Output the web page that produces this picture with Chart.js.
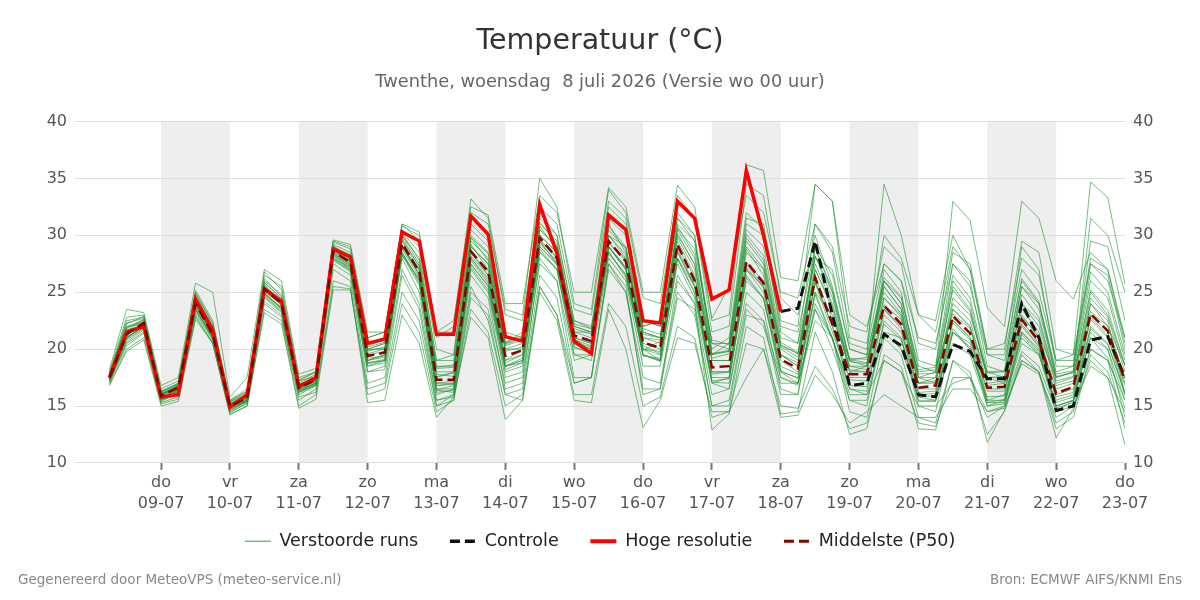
<!DOCTYPE html>
<html lang="nl">
<head>
<meta charset="utf-8">
<title>Temperatuur pluim Twenthe</title>
<script src="https://cdn.jsdelivr.net/npm/chart.js@4.4.1/dist/chart.umd.min.js"></script>
<style>
  html, body { margin: 0; padding: 0; background: #fff; }
  #wrap { width: 1200px; height: 600px; }
</style>
</head>
<body>
<div id="wrap"><canvas id="pluimChart" width="1200" height="600"></canvas></div>
<script>
// Uren na wo 08-07 00:00 (stappen van 6 uur)
const uren = [6,12,18,24,30,36,42,48,54,60,66,72,78,84,90,96,102,108,114,120,
  126,132,138,144,150,156,162,168,174,180,186,192,198,204,210,216,222,228,234,240,
  246,252,258,264,270,276,282,288,294,300,306,312,318,324,330,336,342,348,354,360];

// As-labels (middernacht van elke dag)
const tickUren = [24,48,72,96,120,144,168,192,216,240,264,288,312,336,360];
const dagNamen = ['do','vr','za','zo','ma','di','wo','do','vr','za','zo','ma','di','wo','do'];
const datums = ['09-07','10-07','11-07','12-07','13-07','14-07','15-07','16-07','17-07','18-07','19-07','20-07','21-07','22-07','23-07'];

// Grijze banden: begin van de gearceerde dagen
const bandUren = [24,72,120,168,216,264,312];

// Hoge resolutie (loopt tot +240 uur)
const hogeResolutie = [17.5,21.5,22.0, 15.8,16.0,24.4,21.7, 14.9,16.0,25.3,24.2, 16.7,17.5,28.8,28.1,
  20.5,20.9,30.3,29.5, 21.3,21.3,31.7,30.1, 21.1,20.7,32.7,28.4, 20.7,19.6,31.8,30.5,
  22.5,22.3,33.0,31.5, 24.4,25.2,35.7,30.0, 23.3];

// Controle run (zichtbaar vanaf +240 uur)
const controleStart = 240;
const controle = [23.3,23.6,29.5,23.0, 16.8,17.0,21.3,20.3, 16.0,15.8,20.4,19.8,
  17.4,17.4,24.0,21.0, 14.6,15.0,20.8,21.1, 17.5];

// Middelste (P50)
const mediaan = [17.5,21.3,22.3, 15.9,16.6,24.0,21.3, 15.0,15.7,25.3,24.0, 16.6,17.3,28.6,27.6,
  19.4,19.7,29.3,26.8, 17.3,17.3,28.6,26.8, 19.4,19.9,29.8,28.0, 21.2,20.7,29.5,27.7,
  20.6,20.1,29.2,26.0, 18.4,18.5,27.7,25.8, 19.1,18.3,26.3,22.2, 17.8,17.8,23.8,22.2,
  16.6,16.8,22.9,21.4, 16.6,16.7,22.6,20.7, 16.1,16.7,23.1,21.6, 17.2];

// Verstoorde runs (geschat uit de pluim)
const runs = [
  [17.8,22.5,22.8, 16.2,16.8,24.8,22.0, 15.3,16.2,26.0,24.8, 17.0,17.8,29.2,28.5, 20.5,21.0,30.5,29.0, 20.0,19.5,31.0,29.5, 21.5,21.0,32.0,30.0, 22.5,21.8,31.0,28.5, 20.0,19.0,27.5,24.5, 17.0,16.5,24.0,22.5, 17.5,16.8,23.5,21.0, 16.5,16.0,21.5,20.0, 15.8,15.5,20.5,19.5, 15.0,15.2,19.8,18.5, 14.5,15.0,20.0,19.0, 15.5],
  [17.2,20.5,21.5, 15.5,16.0,23.2,20.8, 14.6,15.4,24.5,23.2, 16.0,16.8,27.5,26.5, 18.0,18.2,27.0,24.0, 15.5,15.8,25.0,23.5, 17.0,17.5,27.5,26.0, 19.0,19.5,30.0,29.0, 22.0,22.5,33.0,31.5, 21.5,22.0,34.5,33.5, 24.5,23.0,30.0,25.5, 19.0,18.5,26.0,24.0, 17.5,17.0,24.5,23.0, 18.0,17.5,25.5,24.0, 17.5,18.0,26.0,24.5, 19.0],
  [17.6,21.8,22.6, 16.0,16.9,24.5,21.8, 15.2,15.9,25.6,24.3, 16.8,17.6,28.9,28.0, 19.8,20.2,30.0,27.5, 18.0,18.0,29.5,28.0, 20.0,20.5,31.0,29.5, 21.5,21.0,30.5,28.8, 21.0,20.5,30.5,28.0, 19.5,19.8,29.5,27.5, 20.0,19.0,27.5,24.0, 18.5,18.2,25.5,23.5, 17.0,17.2,24.0,22.5, 17.0,17.2,24.0,22.0, 16.8,17.2,24.5,22.8, 18.0],
  [16.9,20.0,21.0, 15.2,15.6,22.8,20.6, 14.3,15.0,23.5,22.5, 15.0,16.0,25.5,25.3, 16.0,16.5,24.0,21.5, 14.5,15.5,23.5,21.5, 15.0,16.0,25.5,23.0, 16.0,16.0,24.0,22.0, 15.0,15.8,22.0,21.0, 14.0,14.5,20.5,20.0, 15.0,14.8,18.5,16.5, 13.0,13.5,19.0,18.0, 13.5,13.2,17.5,17.5, 12.5,14.5,19.0,18.0, 13.0,14.0,19.5,18.0, 13.5],
  [17.4,21.0,22.0, 15.8,16.4,23.8,21.5, 15.0,15.8,25.0,24.0, 16.5,17.2,28.5,27.8, 19.0,19.5,29.0,27.0, 17.5,18.0,29.0,27.5, 19.0,20.0,30.5,29.0, 22.0,21.5,31.5,30.0, 21.5,21.0,31.0,29.5, 20.0,21.0,32.0,30.5, 21.5,20.5,28.0,27.0, 20.0,19.5,34.5,30.0, 23.0,22.5,30.0,27.0, 20.0,20.5,28.0,26.5, 19.0,19.5,34.7,33.3, 25.7],
  [17.7,22.0,22.4, 16.1,16.5,24.2,21.2, 15.1,15.6,25.5,23.8, 16.7,17.5,28.8,27.8, 19.5,19.8,29.5,27.0, 17.0,17.0,28.0,26.0, 18.5,19.0,29.0,27.5, 20.5,20.0,29.0,27.0, 20.0,19.5,28.5,25.5, 18.0,18.0,27.0,25.5, 19.5,18.5,27.0,23.5, 18.0,18.5,24.5,23.0, 17.5,18.0,33.0,31.3, 23.6,22.0,33.0,31.5, 26.0,24.4,28.5,27.0, 20.5],
  [17.3,21.2,22.2, 15.6,16.3,23.6,21.0, 14.8,15.5,24.8,23.6, 16.3,17.0,28.0,27.2, 18.5,19.0,28.5,26.0, 16.5,16.5,27.5,25.5, 18.0,18.5,28.5,27.0, 19.5,19.0,28.0,26.0, 18.5,18.5,26.5,24.0, 16.0,16.5,25.0,23.5, 16.5,16.0,25.0,21.0, 14.5,14.0,21.0,19.5, 14.0,13.5,19.0,18.0, 11.8,14.6,19.5,18.0, 12.2,14.8,19.0,17.5, 11.6],
  [18.0,22.8,23.0, 16.5,17.2,25.2,22.5, 15.5,16.5,26.5,25.5, 17.5,18.0,29.5,29.0, 21.0,21.5,31.0,29.5, 21.5,21.5,32.0,31.0, 23.5,23.0,35.0,32.5, 24.0,23.5,34.0,32.0, 24.5,24.0,33.5,31.5, 22.5,23.0,36.2,35.7, 26.3,26.0,34.5,33.0, 23.0,22.0,27.5,26.0, 21.0,20.5,27.5,25.5, 19.5,19.0,26.0,24.0, 18.0,18.5,27.5,26.0, 21.0],
  [17.0,20.8,21.8, 15.4,16.2,23.5,21.0, 14.5,15.2,24.0,22.8, 15.8,16.2,26.0,25.5, 15.3,15.5,23.0,20.5, 14.0,15.8,22.8,21.0, 13.8,15.5,25.5,23.0, 17.0,17.5,27.0,25.0, 17.5,17.0,25.0,23.0, 15.0,15.5,23.5,22.0, 17.0,17.0,22.5,21.0, 16.0,16.0,19.0,18.0, 15.0,15.0,17.0,17.5, 14.5,15.0,18.7,17.8, 14.0,15.0,18.5,17.5, 14.5],
  [17.5,21.0,22.1, 15.9,16.6,24.0,21.5, 15.0,15.7,25.2,23.9, 16.6,17.2,28.4,27.4, 19.0,19.5,29.0,26.5, 17.0,17.2,28.5,26.5, 19.0,19.5,29.5,28.0, 21.0,20.5,29.0,27.0, 20.5,20.0,29.5,26.5, 18.0,18.0,27.5,25.5, 19.0,18.0,26.0,22.0, 17.5,17.5,23.5,22.0, 16.5,16.5,22.5,21.0, 16.5,16.5,22.5,20.5, 16.0,16.5,23.0,21.5, 17.0],
  [17.9,22.2,22.9, 16.3,16.9,24.9,22.2, 15.4,16.0,26.2,24.6, 17.2,17.6,29.0,28.2, 20.0,20.5,30.0,28.0, 19.0,19.5,30.5,29.0, 20.5,21.0,30.0,28.5, 21.5,21.5,32.5,31.0, 22.5,22.0,32.0,30.0, 20.5,20.0,30.5,29.0, 21.0,20.5,31.0,28.5, 20.5,20.0,27.5,26.0, 19.0,18.5,27.5,26.0, 18.5,18.0,29.0,27.0, 18.5,18.5,29.5,29.0, 22.5],
  [17.1,20.3,21.4, 15.3,15.8,23.0,20.5, 14.4,15.3,24.2,23.0, 15.5,16.5,27.0,26.0, 17.0,17.5,26.5,23.5, 15.0,15.5,24.5,23.0, 16.0,16.5,26.5,24.5, 17.0,17.5,27.5,25.0, 16.5,16.5,24.5,23.5, 15.0,15.0,23.0,22.5, 16.0,16.0,24.0,21.0, 15.5,15.0,22.5,21.0, 15.0,14.5,21.5,20.0, 15.5,15.5,21.0,19.5, 15.0,15.5,21.5,20.0, 15.5],
  [17.6,21.6,22.5, 16.0,16.7,24.3,21.6, 15.1,15.8,25.4,24.2, 16.9,17.4,28.7,27.9, 20.0,20.0,29.8,27.2, 18.5,18.5,29.0,27.5, 20.0,20.0,30.0,28.5, 21.0,20.5,30.0,28.0, 21.5,21.0,30.0,27.5, 19.0,19.0,28.5,27.0, 19.5,18.5,29.0,25.0, 18.0,18.0,27.0,25.0, 17.5,17.5,25.5,23.5, 17.5,17.5,25.5,23.5, 17.5,18.0,31.5,30.0, 25.0],
  [17.2,20.6,21.7, 15.6,16.0,23.4,21.0, 14.7,15.4,24.6,23.3, 16.2,16.8,27.8,26.8, 18.0,18.5,28.0,25.0, 15.5,16.0,26.5,24.5, 16.5,17.0,28.0,26.0, 17.5,17.5,27.5,25.5, 16.0,16.5,26.0,24.0, 12.9,14.3,22.0,21.0, 14.3,14.5,21.5,18.0, 12.5,13.0,19.5,18.5, 13.0,12.9,19.0,17.5, 14.0,15.0,21.5,20.0, 15.0,15.5,22.0,20.5, 16.0],
  [17.8,22.3,22.7, 16.2,17.0,25.0,22.3, 15.5,16.3,26.8,25.2, 17.3,18.0,29.4,28.8, 21.0,21.5,30.8,30.0, 21.0,22.0,33.2,31.5, 23.0,22.5,32.5,31.0, 23.5,23.0,33.0,31.5, 22.5,22.0,31.5,29.5, 20.5,20.5,31.0,30.0, 22.0,21.5,29.0,26.5, 20.0,19.5,26.0,24.5, 18.5,18.0,26.0,24.0, 17.5,17.0,24.0,22.5, 17.0,17.5,25.0,23.0, 18.5],
  [17.4,21.4,22.2, 15.8,16.5,24.1,21.4, 14.9,15.6,25.3,24.0, 16.5,17.3,28.3,27.3, 19.0,19.3,28.5,26.0, 16.8,17.0,27.8,25.8, 18.5,19.2,30.5,29.0, 22.0,21.5,28.5,26.5, 19.5,19.0,28.0,25.0, 17.5,17.5,26.5,24.5, 18.0,17.5,25.0,23.0, 18.5,18.5,25.5,23.5, 17.0,17.5,23.5,22.0, 15.5,16.0,23.5,21.5, 15.5,16.0,24.0,22.5, 16.0],
  [17.7,21.9,22.3, 16.0,16.6,24.6,21.9, 15.2,16.0,25.8,24.5, 16.8,17.5,29.0,28.3, 20.0,20.5,30.3,28.5, 19.0,19.0,30.0,28.5, 20.5,21.5,31.5,30.0, 22.5,22.0,31.5,30.5, 22.0,22.5,31.5,30.0, 19.5,20.5,31.5,31.0, 22.5,22.0,34.5,33.0, 21.0,20.5,30.0,28.0, 23.0,21.5,29.0,27.0, 19.5,19.5,27.0,25.0, 19.0,19.0,28.0,27.0, 21.0],
  [17.3,21.1,21.9, 15.7,16.3,23.9,21.2, 14.9,15.6,24.9,23.6, 16.4,17.0,28.2,27.0, 18.5,18.8,28.2,26.2, 16.0,16.5,27.0,25.0, 17.5,18.0,28.8,27.0, 19.5,19.5,29.0,27.0, 19.5,19.0,28.0,25.5, 17.0,17.5,26.0,24.5, 17.5,17.0,23.5,20.0, 15.5,15.5,21.5,21.0, 15.5,15.5,21.5,20.5, 15.0,15.5,20.5,19.5, 14.5,15.5,21.0,20.0, 14.0],
  [16.8,19.8,20.8, 15.0,15.4,22.6,20.5, 14.2,15.0,23.2,22.2, 14.8,15.6,25.2,25.2, 16.5,17.0,25.0,22.5, 15.0,16.0,25.5,22.5, 16.0,15.5,25.0,22.5, 15.5,15.3,23.5,20.0, 13.1,15.5,21.0,20.5, 14.5,14.5,17.5,20.0, 14.0,14.2,17.7,16.0, 13.5,14.5,16.0,15.0, 14.0,14.0,16.5,16.5, 14.5,14.8,19.0,18.0, 13.5,14.5,20.0,19.0, 13.0],
  [18.2,23.5,23.2, 16.8,17.5,25.8,25.0, 15.8,17.5,27.0,26.0, 17.8,18.3,29.6,29.2, 21.5,21.5,31.0,30.3, 21.5,22.5,32.5,31.8, 24.0,24.0,33.5,32.0, 25.0,25.0,34.2,32.5, 25.0,25.0,34.4,32.5, 22.7,25.5,33.5,32.0, 25.0,24.5,31.0,29.0, 22.0,21.5,29.0,27.5, 20.5,20.0,28.5,27.5, 20.0,20.0,29.5,28.5, 20.0,19.5,27.5,26.5, 20.0],
  [17.6,21.7,22.0, 15.9,16.8,24.4,21.0, 15.1,15.9,25.7,23.8, 16.7,17.4,28.8,27.5, 19.6,20.0,29.6,27.3, 17.8,17.6,29.2,27.0, 19.8,20.2,29.5,27.5, 20.8,20.3,30.0,28.3, 20.3,19.6,29.8,27.0, 19.0,19.0,28.8,26.5, 19.5,18.8,27.0,23.8, 18.2,18.0,24.5,22.8, 17.0,17.0,23.5,22.0, 16.8,17.0,23.0,21.0, 16.5,17.0,24.0,22.0, 17.5],
  [17.4,21.2,22.4, 15.7,16.4,23.7,21.6, 14.9,15.5,24.9,23.7, 16.4,17.1,28.3,27.2, 19.2,19.4,28.8,26.3, 16.8,16.9,28.0,26.2, 18.8,19.5,29.2,27.8, 20.5,20.2,29.0,27.2, 20.0,19.8,28.6,25.5, 17.8,18.0,27.0,25.0, 18.5,17.8,25.8,21.5, 17.3,17.2,23.0,21.5, 16.2,16.3,22.3,20.8, 16.3,16.3,22.0,20.2, 15.8,16.2,22.6,21.0, 16.8],
  [17.7,21.6,22.1, 16.1,16.7,24.6,21.7, 15.2,16.0,25.9,24.4, 16.9,17.5,29.1,28.0, 20.2,20.6,30.2,27.8, 18.3,18.4,29.8,27.8, 20.3,20.8,31.2,29.2, 21.8,21.3,30.8,29.0, 21.3,21.0,30.8,28.3, 19.6,19.8,29.8,27.8, 20.2,19.3,28.2,24.5, 18.9,18.7,26.0,24.0, 17.8,17.9,25.2,23.3, 17.5,17.6,24.8,22.8, 17.2,17.6,25.2,23.4, 18.6],
  [17.3,20.9,21.9, 15.6,16.2,23.5,20.9, 14.8,15.4,24.7,23.4, 16.2,16.9,27.9,26.9, 18.7,19.0,28.3,25.6, 16.2,16.4,27.2,25.2, 18.2,18.8,28.6,27.0, 20.1,19.8,28.4,26.6, 19.4,19.2,27.9,24.9, 17.2,17.4,26.3,24.4, 18.1,17.4,24.8,20.8, 16.8,16.7,22.2,20.8, 15.8,15.9,21.5,20.2, 15.8,15.9,21.3,19.6, 15.3,15.8,21.8,20.4, 16.2],
  [17.5,21.9,22.6, 16.0,16.8,24.2,21.1, 15.1,15.7,25.5,24.1, 16.6,17.3,28.5,27.7, 19.9,20.1,29.0,26.6, 17.6,17.9,29.8,28.4, 20.6,21.2,30.8,28.7, 20.9,19.9,28.6,26.3, 19.9,20.7,30.6,28.8, 20.8,20.4,30.1,28.2, 20.6,19.7,28.8,25.3, 19.1,18.8,25.0,23.1, 16.0,16.1,21.8,20.0, 15.3,15.6,21.5,19.8, 14.8,15.3,21.0,19.2, 14.8],
  [17.2,21.0,22.0, 15.6,16.4,23.8,21.1, 14.9,15.5,24.9,23.5, 16.4,17.0,28.0,27.0, 18.8,19.1,28.4,25.8, 16.4,16.8,27.4,25.6, 18.5,19.0,29.0,27.4, 20.4,20.0,29.3,27.8, 21.0,20.8,30.2,27.4, 19.2,19.6,29.0,27.1, 20.4,19.6,28.2,25.0, 19.0,19.3,26.3,24.6, 18.2,18.4,26.5,24.5, 18.0,18.1,26.2,24.2, 17.8,18.1,26.8,25.0, 19.5],
  [17.5,21.5,22.3, 15.6,16.2,24.3,21.5, 14.6,15.4,25.4,24.0, 16.2,16.9,28.7,27.7, 18.8,19.0,29.1,26.6, 16.4,16.2,28.2,26.5, 18.5,18.8,29.4,27.6, 20.2,19.6,29.0,27.2, 19.5,18.9,28.8,25.6, 17.1,17.0,27.2,25.4, 18.0,17.0,26.0,22.0, 16.5,16.3,23.5,21.8, 15.4,15.4,22.6,21.0, 15.3,15.3,22.2,20.3, 15.0,15.5,22.8,21.2, 16.0],
  [17.6,21.4,22.2, 16.3,17.0,24.0,21.4, 15.4,16.3,25.1,23.9, 17.2,18.0,28.4,27.5, 20.3,20.8,29.0,26.9, 18.4,18.6,28.4,26.9, 20.4,21.0,29.6,28.1, 22.2,21.8,29.4,27.9, 21.8,21.3,29.0,26.3, 19.6,19.9,27.6,26.0, 20.3,19.6,26.4,22.6, 19.2,19.1,23.9,22.6, 18.0,18.2,23.1,21.8, 17.9,18.0,22.8,21.2, 17.6,17.9,23.3,22.0, 18.6]
];

const FONT = '"DejaVu Sans", "Noto Sans", sans-serif';

function punten(waarden, startIndex) {
  return waarden.map((v, i) => ({ x: uren[startIndex + i], y: v }));
}

const datasets = [];

datasets.push({
  label: 'Middelste (P50)',
  data: punten(mediaan, 0),
  borderColor: '#8b0000',
  borderWidth: 2.5,
  borderDash: [10, 5],
  order: 1
});
datasets.push({
  label: 'Hoge resolutie',
  data: punten(hogeResolutie, 0),
  borderColor: '#ff0000',
  borderWidth: 3.5,
  order: 2
});
datasets.push({
  label: 'Controle',
  data: punten(controle, uren.indexOf(controleStart)),
  borderColor: '#111111',
  borderWidth: 3,
  borderDash: [10, 5],
  order: 3
});
runs.forEach((run, i) => {
  datasets.push({
    label: i === 0 ? 'Verstoorde runs' : 'run ' + (i + 1),
    data: punten(run, 0),
    borderColor: 'rgba(30, 145, 50, 0.6)',
    borderWidth: 1,
    order: 10 + i
  });
});

// Legenda volgorde (extra spaties geven wat lucht tussen de items)
const legendaVolgorde = ['Verstoorde runs', 'Controle', 'Hoge resolutie', 'Middelste (P50)'];

// Grijze banden achter de lijnen
const dagBanden = {
  id: 'dagBanden',
  beforeDraw(chart) {
    const { ctx, chartArea, scales } = chart;
    ctx.save();
    ctx.fillStyle = '#eeeeee';
    bandUren.forEach(u => {
      const x1 = scales.x.getPixelForValue(u);
      const x2 = scales.x.getPixelForValue(u + 24);
      ctx.fillRect(x1, chartArea.top, x2 - x1, chartArea.bottom - chartArea.top);
    });
    ctx.restore();
  }
};

// Voettekst links en rechts
const voettekst = {
  id: 'voettekst',
  afterDraw(chart) {
    const ctx = chart.ctx;
    ctx.save();
    ctx.font = '13.5px ' + FONT;
    ctx.fillStyle = '#888888';
    ctx.textBaseline = 'middle';
    ctx.textAlign = 'left';
    ctx.fillText('Gegenereerd door MeteoVPS (meteo-service.nl)', 18, 580);
    ctx.textAlign = 'right';
    ctx.fillText('Bron: ECMWF AIFS/KNMI Ens', 1182, 580);
    ctx.restore();
  }
};

const ctx = document.getElementById('pluimChart').getContext('2d');

new Chart(ctx, {
  type: 'line',
  data: { datasets: datasets },
  plugins: [dagBanden, voettekst],
  options: {
    responsive: false,
    animation: false,
    elements: {
      point: { radius: 0 },
      line: { tension: 0, fill: false }
    },
    layout: { padding: { top: 20, left: 18, right: 18, bottom: 40 } },
    plugins: {
      title: {
        display: true,
        text: 'Temperatuur (°C)',
        color: '#333333',
        font: { family: FONT, size: 28.5, weight: 'normal' },
        padding: { top: 4, bottom: 10 }
      },
      subtitle: {
        display: true,
        text: 'Twenthe, woensdag  8 juli 2026 (Versie wo 00 uur)',
        color: '#666666',
        font: { family: FONT, size: 17.8, weight: 'normal' },
        padding: { top: 4, bottom: 28 }
      },
      legend: {
        position: 'bottom',
        labels: {
          color: '#222222',
          font: { family: FONT, size: 17.5 },
          usePointStyle: true,
          pointStyleWidth: 26,
          padding: 15,
          generateLabels(chart) {
            return legendaVolgorde.map((naam, n) => {
              const i = chart.data.datasets.findIndex(d => d.label === naam);
              const d = chart.data.datasets[i];
              return {
                text: n < legendaVolgorde.length - 1 ? naam + '   ' : naam,
                datasetIndex: i,
                strokeStyle: d.borderColor,
                fillStyle: d.borderColor,
                lineWidth: naam === 'Verstoorde runs' ? 1.3 : d.borderWidth + 0.5,
                lineDash: d.borderDash || [],
                pointStyle: 'line',
                fontColor: '#222222',
                hidden: false
              };
            });
          }
        }
      },
      tooltip: { enabled: false }
    },
    scales: {
      x: {
        type: 'linear',
        min: -6,
        max: 360,
        afterBuildTicks(scale) {
          scale.ticks = tickUren.map(u => ({ value: u }));
        },
        ticks: {
          autoSkip: false,
          maxRotation: 0,
          padding: 3,
          color: '#555555',
          font: { family: FONT, size: 16, lineHeight: 1.3 },
          callback: (value, index) => [dagNamen[index], datums[index]]
        },
        grid: {
          drawOnChartArea: false,
          drawTicks: true,
          tickLength: 7,
          tickWidth: 2,
          tickColor: '#777777'
        },
        border: { display: false }
      },
      y: {
        position: 'left',
        min: 10,
        max: 40,
        afterFit(scale) { scale.width = 57; },
        ticks: {
          stepSize: 5,
          padding: 8,
          color: '#555555',
          font: { family: FONT, size: 16 }
        },
        grid: { color: '#dddddd', drawTicks: false },
        border: { display: false }
      },
      y2: {
        position: 'right',
        min: 10,
        max: 40,
        afterFit(scale) { scale.width = 57; },
        ticks: {
          stepSize: 5,
          padding: 8,
          color: '#555555',
          font: { family: FONT, size: 16 }
        },
        grid: { drawOnChartArea: false, drawTicks: false },
        border: { display: false }
      }
    }
  }
});
</script>
</body>
</html>
